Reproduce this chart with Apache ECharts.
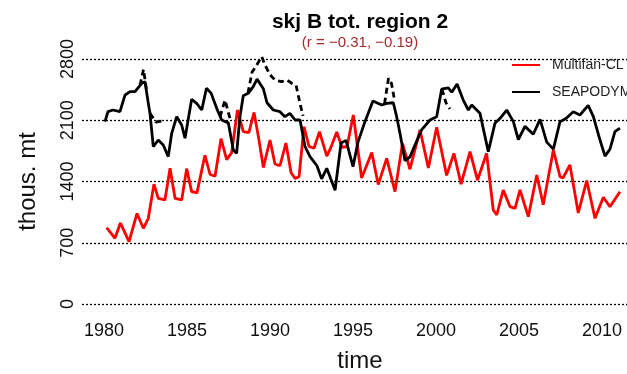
<!DOCTYPE html>
<html>
<head>
<meta charset="utf-8">
<script src="https://cdn.jsdelivr.net/npm/echarts@6/dist/echarts.min.js"></script>
<style>
  html, body { margin: 0; padding: 0; background: #fff; }
  #chart { width: 627px; height: 374px; }
</style>
</head>
<body>
<div id="chart"></div>
<script>
// Skipjack total biomass, region 2 (thousand tonnes)
const xTickYears = [1980, 1985, 1990, 1995, 2000, 2005, 2010];
const yTicks = [0, 700, 1400, 2100, 2800];

// Multifan-CL estimate
const mfclYears = [1980.16, 1980.66, 1980.99, 1981.51, 1981.99, 1982.37, 1982.67, 1983.01, 1983.27, 1983.67,
  1983.98, 1984.28, 1984.68, 1984.98, 1985.28, 1985.60, 1986.08, 1986.39, 1986.69, 1987.05,
  1987.39, 1987.69, 1988.04, 1988.39, 1988.73, 1989.04, 1989.34, 1989.60, 1990.00, 1990.30,
  1990.60, 1990.96, 1991.27, 1991.51, 1991.75, 1992.05, 1992.35, 1992.65, 1992.98, 1993.42,
  1993.67, 1994.02, 1994.34, 1994.64, 1995.02, 1995.52, 1996.13, 1996.52, 1997.03, 1997.53,
  1997.98, 1998.43, 1999.04, 1999.54, 2000.04, 2000.64, 2001.08, 2001.51, 2002.05, 2002.50,
  2003.05, 2003.45, 2003.66, 2004.05, 2004.46, 2004.76, 2005.06, 2005.56, 2006.07, 2006.46,
  2007.07, 2007.47, 2007.65, 2008.07, 2008.57, 2009.08, 2009.58, 2010.08, 2010.48, 2011.08];
const mfclCatch = [872, 751, 925, 712, 1035, 865, 979, 1370, 1208, 1189,
  1552, 1208, 1189, 1547, 1284, 1270, 1700, 1480, 1460, 1890,
  1650, 1730, 2217, 1970, 1960, 2190, 1870, 1560, 1874, 1600,
  1580, 1840, 1500, 1436, 1455, 2026, 1800, 1780, 1970, 1690,
  1790, 1965, 1790, 1800, 2160, 1440, 1730, 1365, 1665, 1284,
  1836, 1540, 1989, 1555, 2020, 1470, 1722, 1370, 1741, 1415,
  1722, 1074, 1017, 1303, 1112, 1093, 1303, 998, 1474, 1135,
  1760, 1455, 1440, 1589, 1040, 1410, 979, 1220, 1112, 1284];

// SEAPODYM estimate
const seapodymYears = [1980.06, 1980.24, 1980.54, 1980.96, 1981.27, 1981.57, 1981.87, 1982.27, 1982.47, 1982.67,
  1982.77, 1982.97, 1983.27, 1983.57, 1983.87, 1984.08, 1984.38, 1984.68, 1984.88, 1985.28,
  1985.58, 1985.89, 1986.17, 1986.45, 1986.79, 1987.09, 1987.49, 1987.79, 1987.99, 1988.19,
  1988.39, 1988.69, 1988.99, 1989.22, 1989.60, 1989.82, 1990.20, 1990.60, 1990.90, 1991.20,
  1991.51, 1991.81, 1992.11, 1992.41, 1992.83, 1993.11, 1993.42, 1993.92, 1994.28, 1994.58,
  1995.00, 1995.30, 1995.72, 1996.20, 1996.73, 1997.03, 1997.43, 1997.63, 1997.83, 1998.13,
  1998.43, 1998.63, 1999.13, 1999.64, 2000.04, 2000.34, 2000.74, 2000.95, 2001.27, 2001.64,
  2001.95, 2002.15, 2002.65, 2003.15, 2003.55, 2003.86, 2004.26, 2004.66, 2004.96, 2005.36,
  2005.86, 2006.27, 2006.67, 2007.07, 2007.47, 2007.83, 2008.27, 2008.67, 2009.17, 2009.48,
  2009.88, 2010.18, 2010.48, 2010.78, 2011.08];
const seapodymCatch = [2084, 2198, 2217, 2198, 2389, 2427, 2427, 2522, 2540, 2293,
  2179, 1798, 1874, 1817, 1684, 1951, 2141, 2046, 1894, 2340,
  2293, 2217, 2465, 2410, 2236, 2103, 2070, 1760, 1722, 2141,
  2380, 2408, 2484, 2570, 2460, 2300, 2217, 2198, 2141, 2179,
  2103, 2103, 1800, 1684, 1580, 1430, 1551, 1300, 1840, 1870,
  1570, 1850, 2084, 2320, 2274, 2293, 2300, 2141, 1951, 1640,
  1680, 1770, 1990, 2103, 2141, 2455, 2470, 2420, 2515, 2331,
  2217, 2274, 2179, 1741, 2065, 2122, 2217, 2084, 1880, 2030,
  1940, 2110, 1850, 1770, 2084, 2120, 2198, 2160, 2270, 2141,
  1874, 1690, 1770, 1970, 2010];

// SEAPODYM alternative run (dashed), only where it departs from the main run
const altYears = [1982.17, 1982.38, 1982.56, null,
  1982.77, 1983.13, 1983.49, null,
  1986.99, 1987.29, 1987.59, null,
  1988.67, 1988.92, 1989.10, 1989.50, 1989.70, 1990.00, 1990.30, 1990.70, 1991.02, 1991.33, 1991.57, 1991.81, 1991.99, null,
  1996.90, 1997.14, 1997.32, 1997.50, null,
  2000.36, 2000.60, 2000.84];
const altCatch = [2500, 2680, 2450, null,
  2179, 2080, 2090, null,
  2140, 2330, 2120, null,
  2410, 2650, 2700, 2827, 2731, 2620, 2560, 2541, 2560, 2520, 2500, 2290, 2150, null,
  2290, 2580, 2520, 2331, null,
  2455, 2300, 2230];

const zip = (xs, ys) => xs.map((x, i) => (x === null ? [null, null] : [x, ys[i]]));

const FONT = '"Liberation Sans", Arial, Helvetica, sans-serif';

const chart = echarts.init(document.getElementById('chart'), null, { renderer: 'canvas' });

const legendBase = {
  orient: 'vertical',
  left: 512,
  padding: 0,
  icon: 'rect',
  itemWidth: 28,
  itemHeight: 2,
  selectedMode: false,
  textStyle: { fontSize: 14, color: '#222', fontFamily: FONT, padding: [0, 0, 0, 7] }
};

chart.setOption({
  backgroundColor: '#ffffff',
  animation: false,
  textStyle: { fontFamily: FONT },
  grid: { left: 82, right: 0, top: 59, height: 245 },
  xAxis: {
    type: 'value',
    min: 1978.675,
    max: 2011.506,
    axisLine: { show: false },
    axisTick: { show: false },
    splitLine: { show: false },
    axisLabel: {
      customValues: xTickYears,
      formatter: (v) => String(v),
      fontSize: 18,
      color: '#111',
      margin: 18,
      fontFamily: FONT
    }
  },
  yAxis: {
    type: 'value',
    min: 0,
    max: 2800,
    interval: 700,
    name: 'thous. mt',
    nameLocation: 'middle',
    nameRotate: 90,
    nameGap: 42,
    nameTextStyle: { fontSize: 24, color: '#111', fontFamily: FONT },
    axisLine: { show: false },
    axisTick: { show: false },
    axisLabel: {
      customValues: yTicks,
      formatter: (v) => String(v),
      rotate: 90,
      fontSize: 18,
      color: '#111',
      margin: 5,
      fontFamily: FONT
    },
    splitLine: {
      show: true,
      lineStyle: { color: '#000', width: 1.3, type: [2, 2] }
    }
  },
  legend: [
    Object.assign({}, legendBase, { top: 58, data: ['Multifan-CL'] }),
    Object.assign({}, legendBase, { top: 85, data: ['SEAPODYM'] })
  ],
  graphic: [
    {
      type: 'text', x: 360, y: 22,
      style: { text: 'skj B tot. region 2', fontSize: 21, fontWeight: 'bold', fill: '#000',
        fontFamily: FONT, textAlign: 'center', textVerticalAlign: 'middle' }
    },
    {
      type: 'text', x: 360, y: 43,
      style: { text: '(r = \u22120.31, \u22120.19)', fontSize: 15, fill: '#a52a2a',
        fontFamily: FONT, textAlign: 'center', textVerticalAlign: 'middle' }
    },
    {
      type: 'text', x: 360, y: 361,
      style: { text: 'time', fontSize: 24, fill: '#111',
        fontFamily: FONT, textAlign: 'center', textVerticalAlign: 'middle' }
    }
  ],
  series: [
    {
      name: 'Multifan-CL',
      type: 'line',
      data: zip(mfclYears, mfclCatch),
      showSymbol: false,
      symbol: 'none',
      clip: false,
      color: '#ff0000',
      lineStyle: { color: '#ff0000', width: 2.8 },
      z: 3
    },
    {
      name: 'SEAPODYM',
      type: 'line',
      data: zip(seapodymYears, seapodymCatch),
      showSymbol: false,
      symbol: 'none',
      clip: false,
      color: '#000000',
      lineStyle: { color: '#000000', width: 2.8 },
      z: 4
    },
    {
      name: 'SEAPODYM alt',
      type: 'line',
      data: zip(altYears, altCatch),
      connectNulls: false,
      showSymbol: false,
      symbol: 'none',
      clip: false,
      color: '#000000',
      lineStyle: { color: '#000000', width: 2.8, type: [6, 4] },
      z: 4
    }
  ]
});
</script>
</body>
</html>
